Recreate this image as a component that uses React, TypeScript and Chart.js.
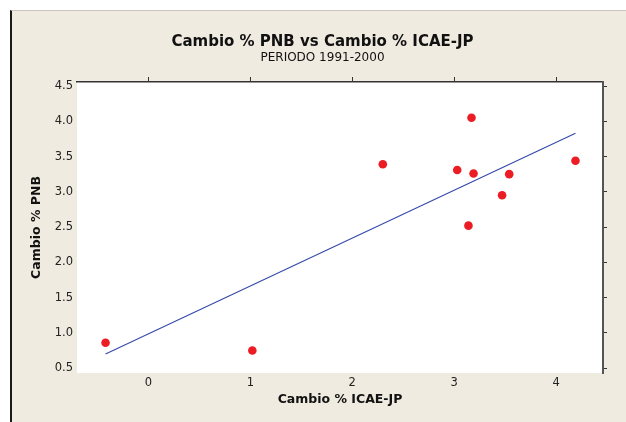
import React, { useEffect, useRef } from "react";
import { Chart, registerables } from "chart.js";

Chart.register(...registerables);

const titleText = "Cambio % PNB vs Cambio % ICAE-JP";
const subtitleText = "PERIODO 1991-2000";
const xTitle = "Cambio % ICAE-JP";
const yTitle = "Cambio % PNB";

const icaeChange = [-0.42, 1.02, 2.3, 3.03, 3.17, 3.19, 3.14, 3.47, 3.54, 4.19];
const pnbChange = [0.86, 0.75, 3.39, 3.31, 4.05, 3.26, 2.52, 2.95, 3.25, 3.44];

const fitX = [-0.42, 4.19];
const fitY = [0.7, 3.83];

const xMin = -0.7;
const xMax = 4.46;
const yMin = 0.43;
const yMax = 4.557;

const FONT = "'DejaVu Sans', Verdana, sans-serif";

export default function App() {
  const ref = useRef<HTMLCanvasElement | null>(null);

  useEffect(() => {
    if (!ref.current) return;
    const points = icaeChange.map((x, i) => ({ x, y: pnbChange[i] }));
    const line = fitX.map((x, i) => ({ x, y: fitY[i] }));
    const chart = new Chart(ref.current, {
      type: "scatter",
      data: {
        datasets: [
          {
            data: line,
            type: "line",
            showLine: true,
            borderColor: "#3448aa",
            borderWidth: 1.1,
            pointRadius: 0,
            fill: false,
          } as any,
          {
            data: points,
            backgroundColor: "#ec1c24",
            borderWidth: 0,
            pointRadius: 4.3,
          },
        ],
      },
      options: {
        animation: false,
        responsive: false,
        maintainAspectRatio: false,
        layout: { padding: { left: 19, right: 0, top: 0, bottom: 0 } },
        plugins: {
          legend: { display: false },
          tooltip: { enabled: false },
          title: {
            display: true,
            text: titleText,
            color: "#111",
            font: { family: FONT, size: 15, weight: "bold" },
            padding: { top: 33, bottom: 0 },
          },
          subtitle: {
            display: true,
            text: subtitleText,
            color: "#111",
            font: { family: FONT, size: 12, weight: "normal" },
            padding: { top: 0, bottom: 6.6 },
          },
        },
        scales: {
          x: {
            type: "linear",
            position: "bottom",
            min: xMin,
            max: xMax,
            grid: { display: false, drawTicks: false },
            border: { display: false },
            ticks: {
              stepSize: 1,
              includeBounds: false,
              padding: 3,
              color: "#222",
              font: { family: FONT, size: 11.5 },
              callback: (v: any) => String(v),
            },
            title: {
              display: true,
              text: xTitle,
              color: "#111",
              font: { family: FONT, size: 12.5, weight: "bold" },
              padding: { top: 0, bottom: 14.5 },
            },
            afterFit: (s: any) => {
              s.height = 49;
            },
          },
          x2: {
            type: "linear",
            position: "top",
            min: xMin,
            max: xMax,
            grid: { display: true, drawOnChartArea: false, drawTicks: true, tickLength: 5, color: "#333" },
            border: { display: true, color: "#333", width: 1.5 },
            ticks: { display: false, stepSize: 1, includeBounds: false },
            afterFit: (s: any) => {
              s.height = 10;
            },
          },
          y: {
            type: "linear",
            position: "left",
            min: yMin,
            max: yMax,
            grid: { display: false, drawTicks: false },
            border: { display: false },
            ticks: {
              stepSize: 0.5,
              includeBounds: false,
              padding: 4,
              color: "#222",
              font: { family: FONT, size: 11.5 },
              callback: (v: any) => Number(v).toFixed(1),
            },
            title: {
              display: true,
              text: yTitle,
              color: "#111",
              font: { family: FONT, size: 12.5, weight: "bold" },
              padding: { top: 10.5, bottom: 0 },
            },
            afterFit: (s: any) => {
              s.width = 58;
            },
          },
          y2: {
            type: "linear",
            position: "right",
            min: yMin,
            max: yMax,
            grid: { display: true, drawOnChartArea: false, drawTicks: true, tickLength: 4, color: "#333" },
            border: { display: true, color: "#555", width: 2 },
            ticks: { display: false, stepSize: 0.5, includeBounds: false },
            afterFit: (s: any) => {
              s.width = 23;
            },
          },
        },
      },
    });
    return () => chart.destroy();
  }, []);

  return (
    <div style={{ position: "fixed", left: 0, top: 0, width: 626, height: 422, background: "#ffffff" }}>
      <div
        style={{
          position: "absolute",
          left: 10,
          top: 10,
          width: 614,
          height: 412,
          background: "#f0ebe0",
          borderLeft: "2px solid #1a1a1a",
          borderTop: "1px solid #c9c5ba",
        }}
      />
      <div
        style={{
          position: "absolute",
          left: 77,
          top: 82,
          width: 526,
          height: 291,
          background: "#ffffff",
        }}
      />
      <canvas ref={ref} width={626} height={422} style={{ position: "absolute", left: 0, top: 0, width: 626, height: 422 }} />
    </div>
  );
}
